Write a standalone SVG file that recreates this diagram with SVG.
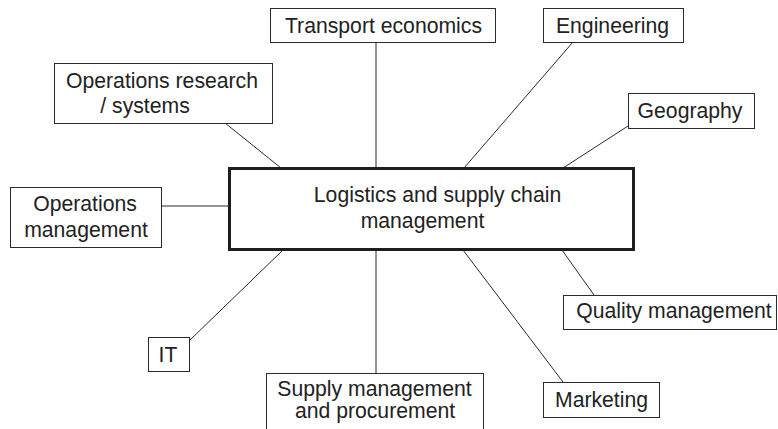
<svg xmlns="http://www.w3.org/2000/svg" width="778" height="429" viewBox="0 0 778 429">
  <style>
    .box { fill: #ffffff; stroke: #2b2b2b; stroke-width: 1; }
    .core { fill: #ffffff; stroke: #1e1e1e; stroke-width: 3; }
    .lbl { font-family: "Liberation Sans", Arial, Helvetica, sans-serif; font-size: 21.2px; fill: #222; text-anchor: middle; }
    .link { stroke: #2b2b2b; stroke-width: 1; fill: none; }
  </style>
  <rect width="778" height="429" fill="#ffffff"/>

  <!-- spokes from the central box to each discipline -->
  <g id="connectors">
    <line class="link" x1="376" y1="42" x2="376" y2="168"/>
    <line class="link" x1="225" y1="123" x2="281" y2="168"/>
    <line class="link" x1="573" y1="42" x2="464" y2="168"/>
    <line class="link" x1="628" y1="126" x2="563" y2="168"/>
    <line class="link" x1="161" y1="206" x2="229" y2="206"/>
    <line class="link" x1="189" y1="341" x2="283" y2="250"/>
    <line class="link" x1="376" y1="250" x2="376" y2="373"/>
    <line class="link" x1="594" y1="295" x2="562" y2="250"/>
    <line class="link" x1="463" y1="250" x2="563" y2="382"/>
  </g>

  <g id="core">
    <rect class="core" x="229.5" y="168.5" width="404" height="81"/>
    <text class="lbl" x="437.5" y="202">Logistics and supply chain</text>
    <text class="lbl" x="422.5" y="228">management</text>
  </g>

  <g id="transport-economics">
    <rect class="box" x="270.5" y="8.5" width="225" height="34"/>
    <text class="lbl" x="383.5" y="33">Transport economics</text>
  </g>

  <g id="operations-research">
    <rect class="box" x="54.5" y="63.5" width="218" height="60"/>
    <text class="lbl" x="162" y="88">Operations research</text>
    <text class="lbl" x="145" y="113">/ systems</text>
  </g>

  <g id="engineering">
    <rect class="box" x="543.5" y="8.5" width="140" height="34"/>
    <text class="lbl" x="612.5" y="33">Engineering</text>
  </g>

  <g id="geography">
    <rect class="box" x="628.5" y="93.5" width="126" height="35"/>
    <text class="lbl" x="690" y="118">Geography</text>
  </g>

  <g id="operations-management">
    <rect class="box" x="10.5" y="187.5" width="151" height="60"/>
    <text class="lbl" x="85" y="211">Operations</text>
    <text class="lbl" x="86" y="237">management</text>
  </g>

  <g id="it">
    <rect class="box" x="148.5" y="337.5" width="41" height="34"/>
    <text class="lbl" x="168" y="362">IT</text>
  </g>

  <g id="supply-management">
    <rect class="box" x="266.5" y="373.5" width="217" height="60"/>
    <text class="lbl" x="374.5" y="396">Supply management</text>
    <text class="lbl" x="375" y="418">and procurement</text>
  </g>

  <g id="quality-management">
    <rect class="box" x="563.5" y="295.5" width="213" height="34"/>
    <text class="lbl" x="674" y="318">Quality management</text>
  </g>

  <g id="marketing">
    <rect class="box" x="543.5" y="382.5" width="116" height="35"/>
    <text class="lbl" x="601.5" y="407">Marketing</text>
  </g>
</svg>
